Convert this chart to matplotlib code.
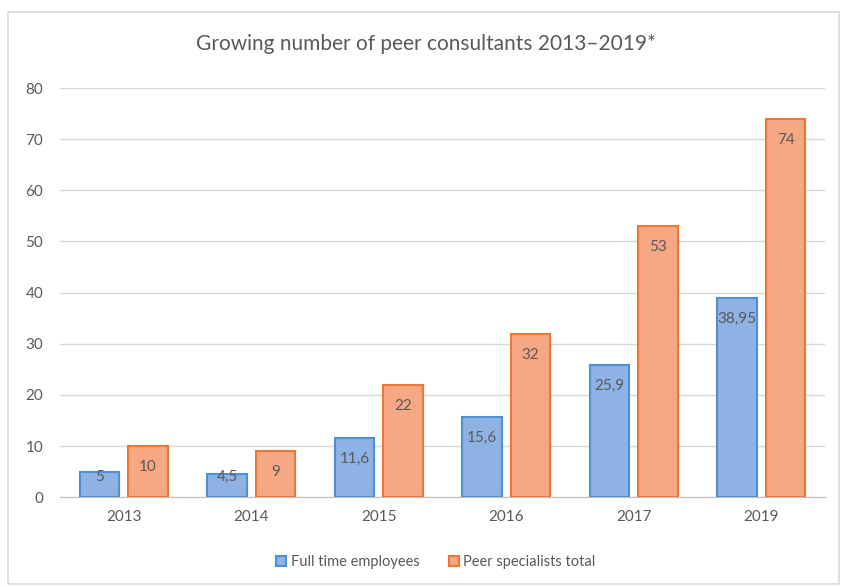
import matplotlib.pyplot as plt
import numpy as np
from matplotlib.patches import Rectangle

plt.rcParams['font.family'] = ['Lato', 'DejaVu Sans']

# data
years = ['2013', '2014', '2015', '2016', '2017', '2019']
full_time = [5, 4.5, 11.6, 15.6, 25.9, 38.95]
peer_total = [10, 9, 22, 32, 53, 74]
full_time_labels = ['5', '4,5', '11,6', '15,6', '25,9', '38,95']
peer_total_labels = ['10', '9', '22', '32', '53', '74']

text_col = '#595959'

fig = plt.figure(figsize=(8.43, 5.87), dpi=100)
# outer chart frame
fig.patches.append(Rectangle((0.01, 0.005), 0.985, 0.975, transform=fig.transFigure,
                             fill=False, edgecolor='#D9D9D9', linewidth=1.2))

ax = fig.add_axes([0.0712, 0.153, 0.9075, 0.697])
x = np.arange(len(years))
w = 0.31
off = 0.19

ax.bar(x - off, full_time, w, color='#8DB2E3', edgecolor='#4F8FD6', linewidth=1.5,
       label='Full time employees', zorder=3)
ax.bar(x + off, peer_total, w, color='#F5A883', edgecolor='#EE7733', linewidth=1.5,
       label='Peer specialists total', zorder=3)

# labels sit just inside the bar top (like Excel "inside end")
for xi, v, s in zip(x - off, full_time, full_time_labels):
    ax.text(xi, max(v - 4.1, 3.9), s, ha='center', va='center', fontsize=11,
            color=text_col, zorder=4)
for xi, v, s in zip(x + off, peer_total, peer_total_labels):
    ax.text(xi, max(v - 4.1, 3.9), s, ha='center', va='center', fontsize=11,
            color=text_col, zorder=4)

ax.set_xlim(-0.5, len(years) - 0.5)
ax.set_ylim(0, 80)
ax.set_yticks(range(0, 81, 10))
ax.set_xticks(x)
ax.set_xticklabels(years)
ax.tick_params(length=0, labelsize=11, labelcolor=text_col)
ax.tick_params(axis='x', pad=9)
ax.tick_params(axis='y', pad=12)
ax.grid(axis='y', color='#D9D9D9', linewidth=1, zorder=0)
for side in ['top', 'right', 'left']:
    ax.spines[side].set_visible(False)
ax.spines['bottom'].set_color('#BFBFBF')

fig.text(0.505, 0.925, 'Growing number of peer consultants 2013\u20132019*',
         ha='center', va='center', fontsize=15, color=text_col)

fig.legend(loc='center', bbox_to_anchor=(0.517, 0.043), ncol=2, frameon=False,
           fontsize=10.5, labelcolor=text_col, handlelength=0.7, handleheight=0.7,
           handletextpad=0.3, columnspacing=2.0)

plt.savefig('out.png', dpi=100)
plt.close()
